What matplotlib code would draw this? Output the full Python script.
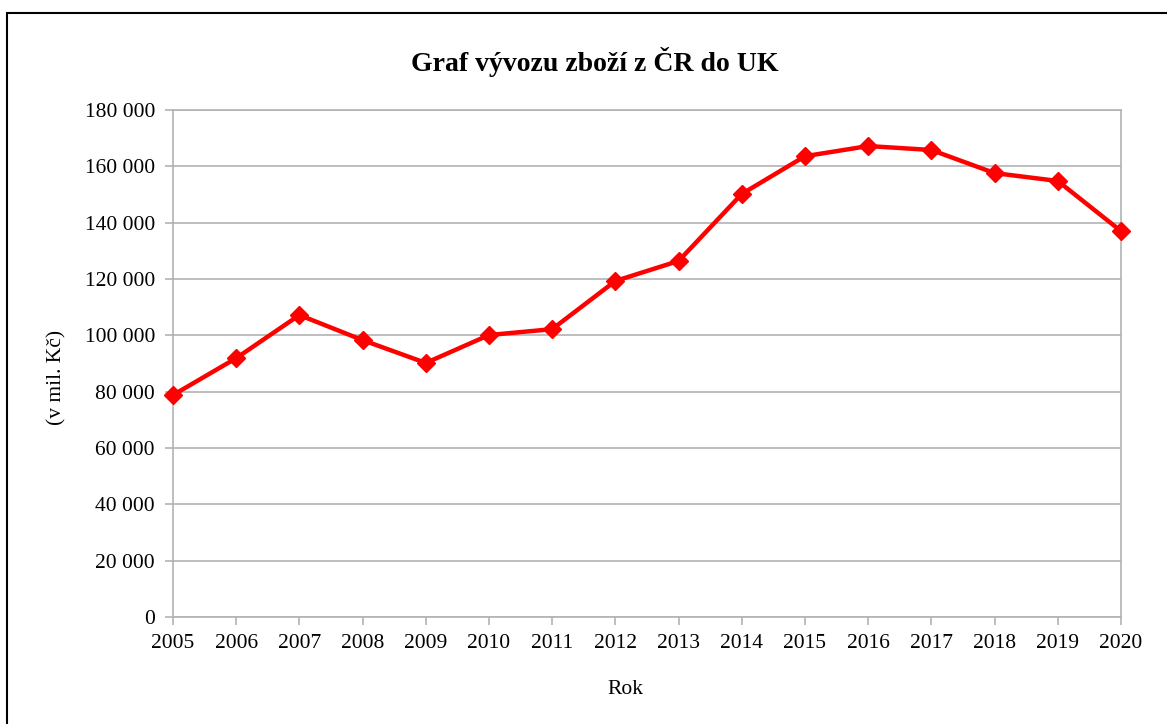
import matplotlib.pyplot as plt
from matplotlib.ticker import FuncFormatter, MultipleLocator
from matplotlib.patches import Rectangle

# data (mil. Kc)
years = list(range(2005, 2021))
export = [78800, 91900, 107200, 98300, 90200, 100100, 102200, 119300,
          126400, 150200, 163600, 167200, 165800, 157600, 154800, 137000]

plt.rcParams['font.family'] = ['Liberation Serif', 'DejaVu Serif']

W, H = 1167, 724
fig = plt.figure(figsize=(W / 100, H / 100), dpi=100)
ax = fig.add_axes([173/W, 1 - 617/H, (1121-173)/W, (617-110)/H])

# outer frame like the screenshot
fig.patches.append(Rectangle((7/W, -0.01), 1.2, 1 - 13/H + 0.01,
                             transform=fig.transFigure, fill=False,
                             edgecolor='black', linewidth=1.5))

grid_c = '#b3b3b3'
ax.plot(years, export, color='#ff0000', linewidth=3.2, marker='D',
        markersize=9, zorder=3, clip_on=False)

ax.set_xlim(2005, 2020)
ax.set_ylim(0, 180000)
ax.set_xticks(years)
ax.yaxis.set_major_locator(MultipleLocator(20000))
ax.yaxis.set_major_formatter(FuncFormatter(lambda v, p: f'{int(v):,}'.replace(',', ' ')))
ax.grid(axis='y', color=grid_c, linewidth=1.2)
ax.set_axisbelow(True)
for s in ax.spines.values():
    s.set_color(grid_c)
    s.set_linewidth(1.2)
ax.tick_params(axis='both', colors=grid_c, length=6, width=1.2,
               labelcolor='black', labelsize=15.5)
ax.tick_params(axis='x', pad=6)
ax.tick_params(axis='y', pad=7)

fig.text(595/W, 1 - 62/H, 'Graf vývozu zboží z ČR do UK', fontsize=20,
         fontweight='bold', ha='center', va='center')
fig.text(625/W, 1 - 689/H, 'Rok', fontsize=15.5, ha='center', va='center')
fig.text(57/W, 1 - 377/H, '(v mil. Kč)', fontsize=15.5, rotation=90,
         ha='center', va='center')

fig.savefig('out.png', dpi=100)
